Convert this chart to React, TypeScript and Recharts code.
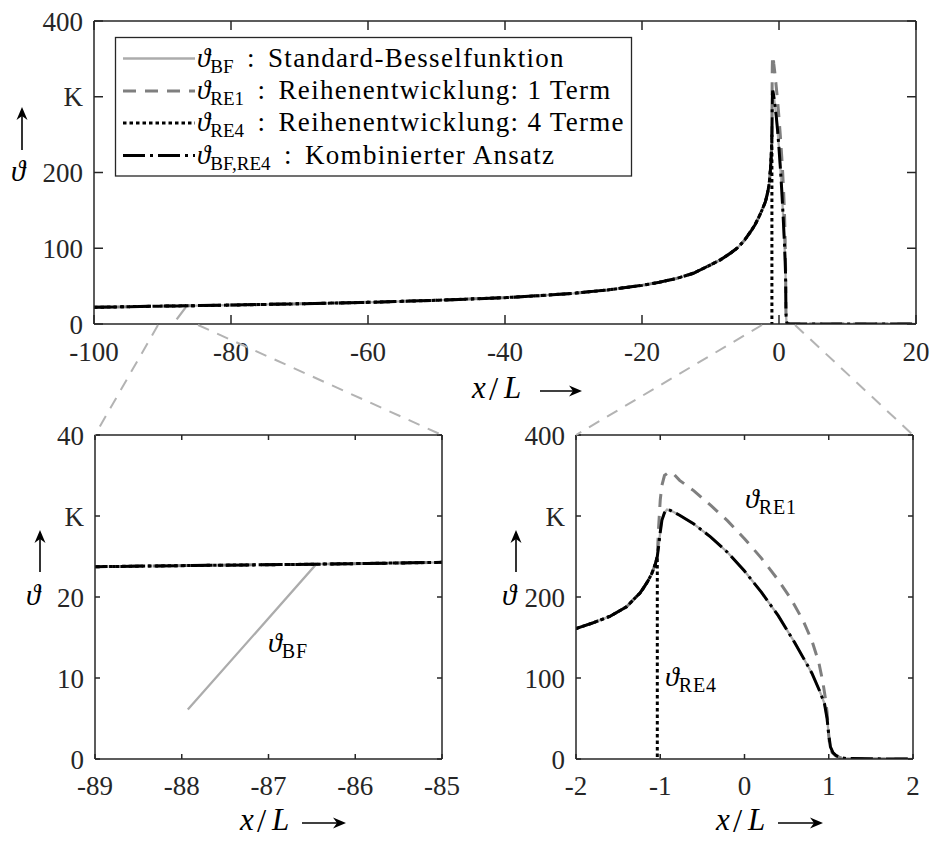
import React from 'react'
import { LineChart, Line, XAxis, YAxis } from 'recharts'

// ϑ_BF,RE4 (combined approach) – shared base curve
const xCombined = [
  -100, -95, -89, -87.93, -86.45, -85, -80, -70, -60, -50, -40, -35, -30, -25, -20,
  -17.5, -15, -12.5, -10, -8.5, -7, -6, -5, -4, -3.5, -3, -2.5, -2,
  -1.8, -1.6, -1.4, -1.24, -1.2, -1.15, -1.1, -1.06, -1.035,
  -1.02, -1.0, -0.98, -0.95, -0.92, -0.88,
  -0.77, -0.6, -0.4, -0.2, 0, 0.2, 0.4, 0.6, 0.8,
  0.9, 0.95, 0.98, 1.0, 1.02, 1.05, 1.09, 1.15, 1.21, 1.5, 2, 20,
]
const yCombined = [
  22.0, 22.9, 23.74, 23.88, 24.05, 24.28, 25.0, 26.7, 28.6, 31.3, 34.8, 37.4, 40.5, 45, 51,
  55, 60, 67, 78, 85, 94, 101, 111, 124, 131, 140, 150, 161,
  168, 176, 188, 205, 211, 219, 229, 240, 250,
  262, 280, 295, 304, 308, 307,
  301, 290, 274, 255, 232, 206, 177, 143, 106,
  82, 68, 50, 30, 15, 8, 4, 1.5, 0.6, 0.2, 0, 0,
]

// ϑ_RE1 – where it leaves the base curve
const xRe1Tail = [-1.02, -1.0, -0.98, -0.95, -0.9, -0.85, -0.77, -0.6, -0.4, -0.2, 0, 0.2, 0.4, 0.55, 0.7, 0.8, 0.88, 0.93, 0.96, 0.98, 0.995, 1.01, 1.04, 1.08, 1.15, 1.3, 20]
const yRe1Tail = [285, 320, 338, 350, 354, 353, 344, 331, 313, 294, 272, 248, 221, 198, 170, 146, 120, 95, 75, 58, 35, 18, 8, 4, 1, 0, 0]

// ϑ_RE4 – drops to zero and stops
const xRe4Tail = [-1.035]
const yRe4Tail = [0]

// ϑ_BF – start of the Bessel curve
const xBfHead = [-87.93]
const yBfHead = [6.1]

const topXTicks = [-100, -80, -60, -40, -20, 0, 20]
const topYTicks = [0, 100, 200, 300, 400]
const leftXTicks = [-89, -88, -87, -86, -85]
const leftYTicks = [0, 10, 20, 30, 40]
const rightXTicks = [-2, -1, 0, 1, 2]
const rightYTicks = [0, 100, 200, 300, 400]

const legendSubs = ['BF', 'RE1', 'RE4', 'BF,RE4']
const legendLabels = ['Standard-Besselfunktion', 'Reihenentwicklung: 1 Term', 'Reihenentwicklung: 4 Terme', 'Kombinierter Ansatz']

const SERIF = "'Liberation Serif', 'DejaVu Serif', 'Noto Serif', serif"
const AXIS = '#262626'

const toRows = (xs: number[], ys: number[]) => xs.map((x, i) => ({ x, y: ys[i] }))
const combRows = toRows(xCombined, yCombined)
const re1Rows = [...combRows.filter((r) => r.x <= -1.035), ...toRows(xRe1Tail, yRe1Tail)]
const re4Rows = [...combRows.filter((r) => r.x <= -1.035), ...toRows(xRe4Tail, yRe4Tail)]
const bfRows = [...toRows(xBfHead, yBfHead), ...combRows.filter((r) => r.x >= -86.45)]

const STYLES = [
  { key: 'bf', rows: bfRows, stroke: '#acacac', strokeWidth: 2.3, dash: undefined },
  { key: 're1', rows: re1Rows, stroke: '#7f7f7f', strokeWidth: 3, dash: '13 9' },
  { key: 're4', rows: re4Rows, stroke: '#000', strokeWidth: 3, dash: '3.5 3' },
  { key: 'comb', rows: combRows, stroke: '#000', strokeWidth: 3, dash: '22 5 3 5' },
]

const tickStyle = { fill: AXIS, fontSize: 27, fontFamily: SERIF, style: { fontFamily: SERIF } }
const noTick = () => null

function Panel({ left, top, w, h, pl, pr, pt, pb, xDomain, xTicks, yDomain, yTicks, tickLen, xMargin }: any) {
  const formatY = (v: number, i: number) => (i === 3 ? 'K' : String(v))
  return (
    <div style={{ position: 'absolute', left, top }}>
      <LineChart width={w} height={h} margin={{ top: 0, right: 0, bottom: 0, left: 0 }}>
        <XAxis xAxisId="b" dataKey="x" type="number" domain={xDomain} ticks={xTicks} interval={0} allowDataOverflow
          height={pb} tickSize={-tickLen} tickMargin={xMargin} stroke={AXIS} axisLine={{ strokeWidth: 1.5 }}
          tickLine={{ strokeWidth: 1.5 }} tick={tickStyle} />
        <XAxis xAxisId="t" orientation="top" dataKey="x" type="number" domain={xDomain} ticks={xTicks} interval={0}
          allowDataOverflow height={pt} tickSize={-tickLen} stroke={AXIS} axisLine={{ strokeWidth: 1.5 }}
          tickLine={{ strokeWidth: 1.5 }} tick={noTick} />
        <YAxis yAxisId="l" type="number" domain={yDomain} ticks={yTicks} interval={0} allowDataOverflow width={pl}
          tickSize={-tickLen} tickMargin={tickLen + 11} stroke={AXIS} axisLine={{ strokeWidth: 1.5 }}
          tickLine={{ strokeWidth: 1.5 }} tick={tickStyle} tickFormatter={formatY} />
        <YAxis yAxisId="r" orientation="right" type="number" domain={yDomain} ticks={yTicks} interval={0}
          allowDataOverflow width={pr} tickSize={-tickLen} stroke={AXIS} axisLine={{ strokeWidth: 1.5 }}
          tickLine={{ strokeWidth: 1.5 }} tick={noTick} />
        {STYLES.map((s) => (
          <Line key={s.key} xAxisId="b" yAxisId="l" data={s.rows} dataKey="y" type="linear" dot={false}
            stroke={s.stroke} strokeWidth={s.strokeWidth} strokeDasharray={s.dash} isAnimationActive={false} />
        ))}
      </LineChart>
    </div>
  )
}

// small helpers for the hand-set annotation text
function Theta({ x, y, sub, size = 28 }: { x: number; y: number; sub?: string; size?: number }) {
  return (
    <text x={x} y={y} fontSize={size} fill="#000" style={{ whiteSpace: 'pre', fontFamily: SERIF }}>
      <tspan fontStyle="italic">ϑ</tspan>
      {sub && <tspan fontSize={20} dy={6} letterSpacing={0.8}>{sub}</tspan>}
    </text>
  )
}

function UpArrow({ x, y1, y2 }: { x: number; y1: number; y2: number }) {
  return (
    <g>
      <line x1={x} y1={y2} x2={x} y2={y1 + 6} stroke="#000" strokeWidth={1.6} />
      <path d={`M${x},${y1} L${x - 5.5},${y1 + 13} L${x},${y1 + 9} L${x + 5.5},${y1 + 13} Z`} fill="#000" />
    </g>
  )
}

function XLabel({ x, y, arrowFrom, arrowTo }: { x: number; y: number; arrowFrom: number; arrowTo: number }) {
  const ay = y - 7
  const f = { fontFamily: SERIF }
  return (
    <g>
      <text x={x} y={y} style={f} fontSize={31} fontStyle="italic" fill="#000">x</text>
      <text x={x + 17} y={y + 2} style={f} fontSize={33} fill="#000">/</text>
      <text x={x + 32} y={y} style={f} fontSize={31} fontStyle="italic" fill="#000">L</text>
      <line x1={arrowFrom} y1={ay} x2={arrowTo - 6} y2={ay} stroke="#000" strokeWidth={1.6} />
      <path d={`M${arrowTo},${ay} L${arrowTo - 13},${ay - 5.5} L${arrowTo - 9},${ay} L${arrowTo - 13},${ay + 5.5} Z`} fill="#000" />
    </g>
  )
}

function Overlay() {
  const rows = [58.5, 91, 123, 155.5]
  const conn = { stroke: '#b3b3b3', strokeWidth: 2, strokeDasharray: '12 9' }
  return (
    <svg width={935} height={843} style={{ position: 'absolute', left: 0, top: 0, pointerEvents: 'none' }}>
      {/* zoom connectors */}
      <line x1={158} y1={325} x2={95} y2={435} {...conn} />
      <line x1={198} y1={325} x2={442} y2={435} {...conn} />
      <line x1={762} y1={325} x2={576} y2={435} {...conn} />
      <line x1={795} y1={325} x2={913} y2={435} {...conn} />

      {/* legend */}
      <rect x={115.5} y={37.5} width={516} height={138.5} fill="#fff" stroke={AXIS} strokeWidth={1.3} />
      {STYLES.map((s, i) => (
        <g key={s.key}>
          <line x1={123} y1={rows[i]} x2={195} y2={rows[i]} stroke={s.stroke} strokeWidth={s.strokeWidth}
            strokeDasharray={s.dash} />
          <text x={197} y={rows[i] + 8} fontSize={27} fill="#000" style={{ whiteSpace: 'pre', fontFamily: SERIF }}>
            <tspan fontStyle="italic">ϑ</tspan>
            <tspan fontSize={19} dy={6}>{legendSubs[i]}</tspan>
            <tspan dy={-6}>{'\u2002:\u2002'}</tspan>
            <tspan letterSpacing={1.3}>{legendLabels[i]}</tspan>
          </text>
        </g>
      ))}

      {/* y axis symbols */}
      <Theta x={11} y={181} size={29} />
      <UpArrow x={22} y1={107} y2={150} />
      <Theta x={26} y={605} size={29} />
      <UpArrow x={40} y1={530} y2={572} />
      <Theta x={502} y={605} size={29} />
      <UpArrow x={516} y1={530} y2={572} />

      {/* x axis labels */}
      <XLabel x={472} y={398} arrowFrom={540} arrowTo={582} />
      <XLabel x={240} y={830} arrowFrom={302} arrowTo={346} />
      <XLabel x={716} y={830} arrowFrom={778} arrowTo={823} />

      {/* curve annotations */}
      <Theta x={268} y={652} sub="BF" />
      <Theta x={745} y={508} sub="RE1" />
      <Theta x={665} y={686} sub="RE4" />
    </svg>
  )
}

export default function App() {
  return (
    <div style={{ position: 'absolute', left: 0, top: 0, width: 935, height: 843, background: '#fff', fontFamily: SERIF }}>
      <Panel left={0} top={0} w={935} h={420} pl={94} pr={19} pt={21} pb={96}
        xDomain={[-100, 20]} xTicks={topXTicks} yDomain={[0, 400]} yTicks={topYTicks} tickLen={9} xMargin={27} />
      <Panel left={0} top={420} w={470} h={423} pl={95} pr={28} pt={15} pb={84}
        xDomain={[-89, -85]} xTicks={leftXTicks} yDomain={[0, 40]} yTicks={leftYTicks} tickLen={5} xMargin={22} />
      <Panel left={470} top={420} w={465} h={423} pl={106} pr={22} pt={15} pb={84}
        xDomain={[-2, 2]} xTicks={rightXTicks} yDomain={[0, 400]} yTicks={rightYTicks} tickLen={5} xMargin={22} />
      <Overlay />
    </div>
  )
}
